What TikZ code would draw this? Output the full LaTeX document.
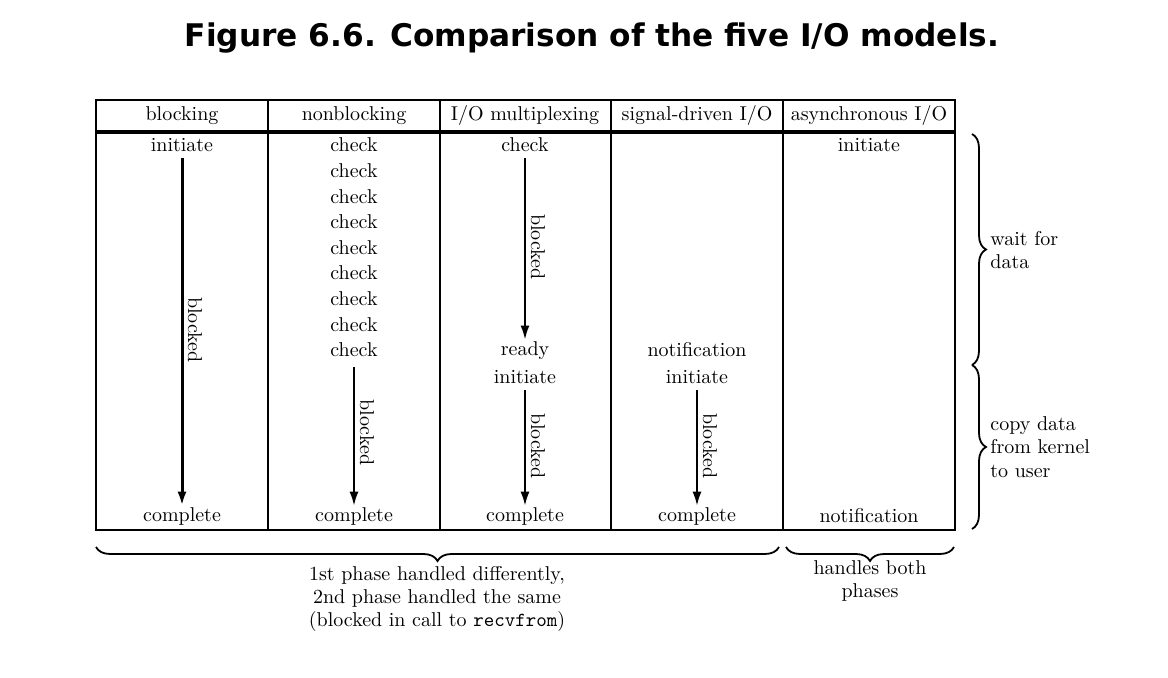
\documentclass[tikz,border=0pt]{standalone}
\usepackage{fontspec}
\newfontfamily\titlefont{DejaVu Sans}
\usetikzlibrary{arrows.meta,decorations.pathreplacing}
\begin{document}
\begin{tikzpicture}[x=0.5pt, y=-0.5pt, >={Latex[length=7pt,width=4.5pt]},
    txt/.style={font=\fontsize{10}{12}\selectfont, inner sep=1pt},
    lbl/.style={font=\fontsize{10}{12}\selectfont, rotate=-90, anchor=south, inner sep=1pt, outer sep=2pt},
    side/.style={font=\fontsize{10}{11.75}\selectfont, align=left, anchor=west, inner sep=0pt},
    foot/.style={font=\fontsize{10}{11.4}\selectfont, align=center, inner sep=0pt},
    brc/.style={decorate, decoration={brace, amplitude=7pt}, line width=0.9pt}]
    \useasboundingbox (0,0) rectangle (1168,678);

    % Title
    \node[font=\titlefont\bfseries\fontsize{15.6}{18}\selectfont] (title) at (592,38)
        {Figure 6.6. Comparison of the five I/O models.};

    % Table frame and columns
    \draw[line width=1pt] (96,100) rectangle (955,530);
    \draw[line width=2pt] (96,132) -- (955,132);
    \foreach \x in {268,440,611,783}
        \draw[line width=1pt] (\x,100) -- (\x,530);

    % Header row
    \node[txt] (hblk) at (182,116) {blocking};
    \node[txt] (hnbl) at (354,116) {nonblocking};
    \node[txt] (hmux) at (525,116) {I/O multiplexing};
    \node[txt] (hsig) at (697,116) {signal-driven I/O};
    \node[txt] (hasy) at (869,116) {asynchronous I/O};

    % blocking
    \node[txt] (ini1) at (182,145) {initiate};
    \node[txt] (cmp1) at (182,517) {complete};
    \draw[->, line width=1.5pt, shorten <=2pt] (ini1) -- (cmp1) node[lbl, midway] {blocked};

    % nonblocking: polling
    \foreach \i in {1,...,9}
        \node[txt] (chk\i) at (354,{145+(\i-1)*25.6}) {check};
    \node[txt] (cmp2) at (354,517) {complete};
    \draw[->, line width=1pt, shorten <=4pt] (chk9) -- (cmp2) node[lbl, midway] {blocked};

    % I/O multiplexing
    \node[txt] (mchk) at (525,145) {check};
    \node[txt] (mrdy) at (525,351) {ready};
    \node[txt] (mini) at (525,377) {initiate};
    \node[txt] (cmp3) at (525,517) {complete};
    \draw[->, line width=1pt, shorten <=2pt] (mchk) -- (mrdy) node[lbl, midway] {blocked};
    \draw[->, line width=1pt, shorten <=2pt] (mini) -- (cmp3) node[lbl, midway] {blocked};

    % signal-driven I/O
    \node[txt] (snot) at (697,350) {notification};
    \node[txt] (sini) at (697,377) {initiate};
    \node[txt] (cmp4) at (697,517) {complete};
    \draw[->, line width=1pt, shorten <=2pt] (sini) -- (cmp4) node[lbl, midway] {blocked};

    % asynchronous I/O
    \node[txt] (aini) at (869,145) {initiate};
    \node[txt] (anot) at (869,516) {notification};

    % Phase braces on the right
    \coordinate (pA) at (972,134);
    \coordinate (pB) at (972,365);
    \coordinate (pC) at (972,529);
    \draw[brc] (pA) -- (pB);
    \draw[brc] (pB) -- (pC);
    \node[side] (wait) at (990,250) {wait for\\data};
    \node[side] (copy) at (990,447) {copy data\\from kernel\\to user};

    % Braces below
    \coordinate (qA) at (96,547);
    \coordinate (qB) at (779,547);
    \coordinate (qC) at (786,547);
    \coordinate (qD) at (954,547);
    \draw[brc] (qB) -- (qA);
    \draw[brc] (qD) -- (qC);
    \node[foot] (first) at (437,599) {1st phase handled differently,\\2nd phase handled the same\\(blocked in call to \texttt{recvfrom})};
    \node[foot] (both) at (870,581) {handles both\\phases};
\end{tikzpicture}
\end{document}
